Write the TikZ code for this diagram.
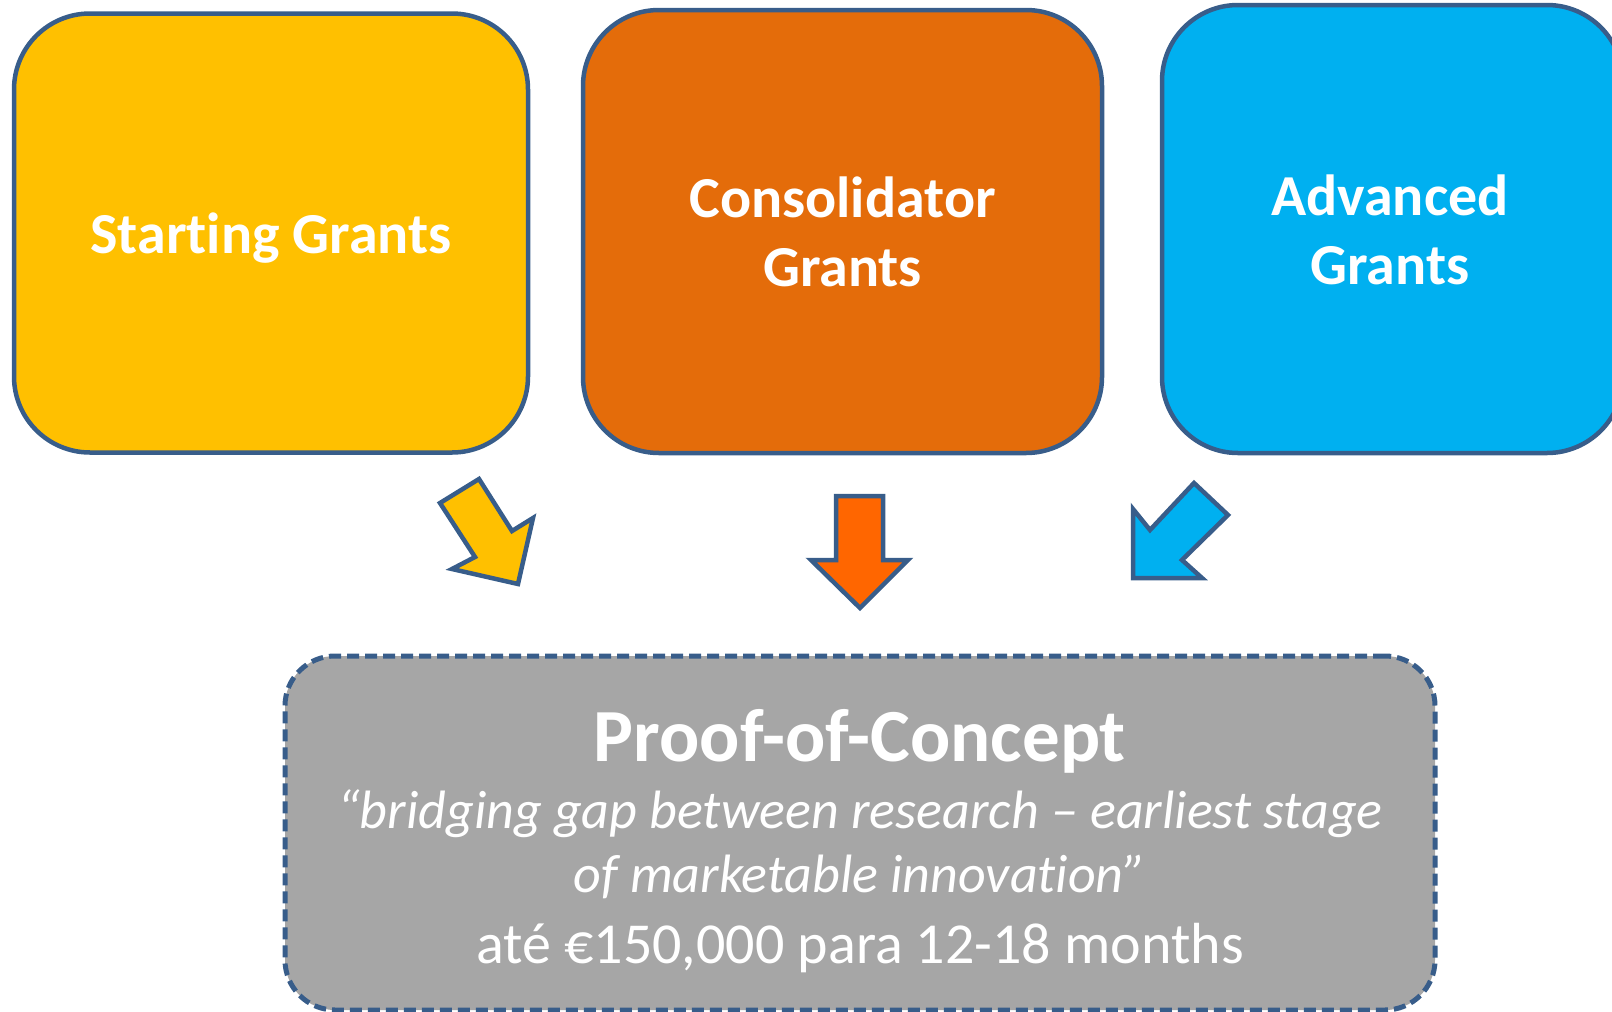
\documentclass[tikz,border=0pt]{standalone}
\usepackage{fontspec}
\setmainfont{Carlito}[Ligatures={NoCommon,NoContextual}]
\definecolor{yel}{HTML}{FFC000}
\definecolor{org}{HTML}{E46C0A}
\definecolor{orgarrow}{HTML}{FF6600}
\definecolor{blu}{HTML}{00B0F0}
\definecolor{gry}{HTML}{A6A6A6}
\definecolor{edge}{HTML}{385D8A}
\tikzset{
  topbox/.style={draw=edge, line width=4.5pt, rounded corners=76pt, inner sep=0pt},
  toptext/.style={text=white, align=center, inner sep=0pt, font=\fontsize{58}{69}\selectfont\bfseries},
  pocbox/.style={draw=edge, line width=5pt, dash pattern=on 12pt off 6pt,
    rounded corners=50pt, fill=gry, inner sep=0pt},
  blockarrow/.style={draw=edge, line width=4.5pt, line join=miter},
  pocline/.style={text=white, anchor=base, inner sep=0pt}
}
\begin{document}
\begin{tikzpicture}[x=1pt,y=-1pt]
\useasboundingbox (0,0) rectangle (1612,1012);
\clip (0,0) rectangle (1612,1012);
% top boxes
\node[topbox, fill=yel, minimum width=514pt, minimum height=439pt] (sg) at (271,233) {};
\node[toptext] (sgt) at (271,238) {Starting Grants};
\node[topbox, fill=org, minimum width=519pt, minimum height=443pt] (cg) at (842.5,231.5) {};
\node[toptext] (cgt) at (842.5,232) {Consolidator\\Grants};
\node[topbox, fill=blu, minimum width=461pt, minimum height=448pt] (ag) at (1392.5,229) {};
\node[toptext] (agt) at (1390,230) {Advanced\\Grants};
% bottom box
\node[pocbox, minimum width=1150pt, minimum height=354pt] (poc) at (860,833) {};
\node[pocline, font=\fontsize{75}{80}\selectfont\bfseries] (poct) at (860,761) {Proof-of-Concept};
\node[pocline, font=\fontsize{54}{66}\selectfont\itshape] (pocq1) at (860,828) {“bridging gap between research – earliest stage};
\node[pocline, font=\fontsize{54}{66}\selectfont\itshape] (pocq2) at (860,892) {of marketable innovation”};
\node[pocline, font=\fontsize{58}{66}\selectfont] (pocm) at (860,963) {até €150,000 para 12-18 months};
% block arrows
\draw[blockarrow, fill=yel] (440,503) -- (479,479) -- (512,531) -- (533,518) -- (518,584) -- (452,569) -- (475,557) -- cycle;
\draw[blockarrow, fill=orgarrow] (836,496) -- (883,496) -- (883,560) -- (908,560) -- (860,608) -- (811,560) -- (836,560) -- cycle;
\draw[blockarrow, fill=blu] (1194,483) -- (1228,515) -- (1182,560) -- (1202,578) -- (1133,578) -- (1133,509) -- (1150,530) -- cycle;
\end{tikzpicture}
\end{document}
